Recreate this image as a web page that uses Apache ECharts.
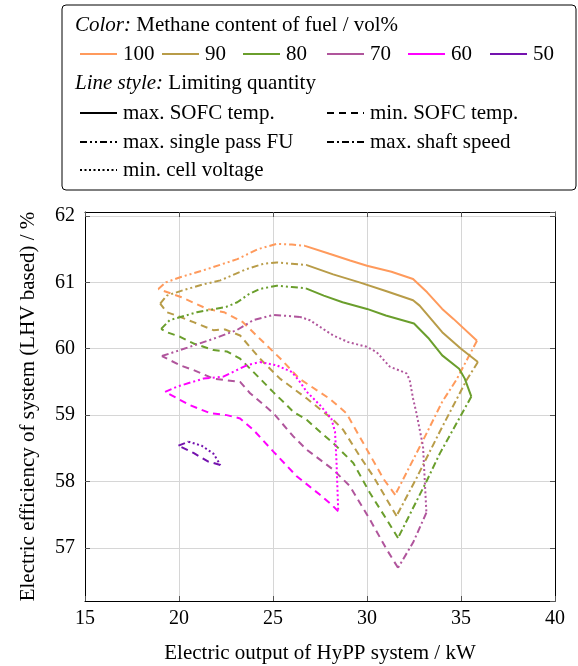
<!DOCTYPE html>
<html>
<head>
<meta charset="utf-8">
<script src="https://cdn.jsdelivr.net/npm/echarts@6/dist/echarts.min.js"></script>
<style>
  html, body { margin: 0; padding: 0; background: #fff; }
  #chart { width: 578px; height: 666px; }
</style>
</head>
<body>
<div id="chart"></div>
<script>
// Methane content of fuel / vol% -> colour
const fuels = ['100', '90', '80', '70', '60', '50'];
const fuelColors = ['#FF9A5C', '#B89C48', '#6A9E2C', '#B0559C', '#FF00FF', '#7412AE'];

// x ticks and limiting quantity labels
const xTicks = [15, 20, 25, 30, 35, 40];
const limits = ['max. SOFC temp.', 'min. SOFC temp.', 'max. single pass FU', 'max. shaft speed', 'min. cell voltage'];

// [electric output kW, efficiency %] per fuel and limiting quantity
const fu100 = [[18.9, 60.9], [19.3, 61.0], [20.1, 61.08], [21.5, 61.2], [23.1, 61.35], [24.2, 61.5], [25.2, 61.58], [26.0, 61.57], [26.7, 61.55]];
const maxT100 = [[26.7, 61.55], [28.0, 61.43], [29.1, 61.33], [30.0, 61.25], [31.3, 61.16], [32.45, 61.05], [33.2, 60.85], [34.0, 60.6], [34.6, 60.45], [35.85, 60.12]];
const shaft100 = [[35.85, 60.12], [34.75, 59.53], [34.0, 59.2], [33.0, 58.63], [31.5, 57.8]];
const minT100 = [[31.5, 57.8], [30.9, 58.03], [30.0, 58.48], [28.9, 59.03], [28.0, 59.25], [27.3, 59.38], [26.4, 59.55], [25.4, 59.85], [24.3, 60.15], [23.4, 60.4], [22.4, 60.55], [21.5, 60.6], [20.1, 60.78], [18.9, 60.9]];

const fu90 = [[19.0, 60.68], [19.35, 60.8], [20.2, 60.88], [21.3, 60.97], [22.2, 61.03], [23.6, 61.2], [24.5, 61.28], [25.2, 61.3], [26.0, 61.28], [26.8, 61.26]];
const maxT90 = [[26.8, 61.26], [28.2, 61.12], [29.6, 61.0], [31.0, 60.87], [32.45, 60.73], [32.8, 60.65], [33.4, 60.45], [34.0, 60.25], [35.0, 60.0], [35.9, 59.8]];
const shaft90 = [[35.9, 59.8], [35.3, 59.53], [33.87, 58.75], [32.63, 58.05], [31.57, 57.48]];
const minT90 = [[31.57, 57.48], [30.33, 58.08], [29.62, 58.38], [28.73, 58.78], [28.2, 58.93], [26.8, 59.25], [25.37, 59.55], [24.31, 59.85], [23.25, 60.2], [22.45, 60.29], [21.83, 60.28], [20.77, 60.4], [19.88, 60.5], [19.35, 60.55], [19.0, 60.68]];

const fu80 = [[19.05, 60.3], [19.5, 60.43], [20.95, 60.55], [22.5, 60.63], [23.1, 60.7], [23.7, 60.82], [24.3, 60.9], [25.2, 60.95], [26.0, 60.93], [26.75, 60.91]];
const maxT80 = [[26.75, 60.91], [27.7, 60.8], [28.7, 60.7], [30.0, 60.6], [31.0, 60.5], [32.5, 60.38], [33.3, 60.15], [34.0, 59.9], [34.9, 59.7], [35.2, 59.55], [35.55, 59.28]];
const shaft80 = [[35.55, 59.28], [33.87, 58.42], [33.16, 58.0], [31.65, 57.15]];
const minT80 = [[31.65, 57.15], [31.04, 57.43], [30.15, 57.83], [29.27, 58.28], [28.2, 58.58], [27.5, 58.75], [26.79, 58.93], [26.08, 59.05], [25.73, 59.15], [25.0, 59.35], [24.31, 59.55], [23.25, 59.85], [22.54, 59.96], [21.83, 59.98], [20.77, 60.08], [20.06, 60.18], [19.35, 60.25], [19.05, 60.3]];

const fu70 = [[19.09, 59.89], [20.06, 59.98], [21.0, 60.07], [21.83, 60.15], [23.07, 60.28], [23.95, 60.43], [25.02, 60.51], [26.43, 60.48]];
const minV70 = [[26.43, 60.48], [26.96, 60.43], [28.2, 60.2], [29.0, 60.1], [29.98, 60.03], [30.51, 59.95], [31.21, 59.73], [32.1, 59.63], [32.27, 59.53], [32.45, 59.25], [32.63, 59.03], [32.98, 58.53], [33.07, 58.03], [33.16, 57.53]];
const shaft70 = [[33.16, 57.53], [32.45, 57.08], [31.65, 56.7]];
const minT70 = [[31.65, 56.7], [31.04, 56.98], [30.15, 57.43], [29.09, 57.93], [28.2, 58.18], [26.79, 58.48], [26.08, 58.68], [25.02, 59.03], [23.78, 59.33], [23.25, 59.5], [21.83, 59.55], [20.77, 59.68], [20.06, 59.75], [19.09, 59.89]];

const fu60 = [[19.26, 59.35], [19.9, 59.43], [21.3, 59.55], [22.36, 59.58], [23.6, 59.75], [24.31, 59.8]];
const minV60 = [[24.31, 59.8], [25.2, 59.75], [26.0, 59.65], [26.43, 59.5], [26.8, 59.35], [27.5, 59.15], [28.1, 58.95], [28.3, 58.75], [28.38, 58.28], [28.47, 57.55]];
const minT60 = [[28.47, 57.55], [28.12, 57.65], [27.5, 57.8], [26.26, 58.08], [25.02, 58.45], [23.95, 58.78], [23.25, 58.95], [22.54, 59.0], [21.65, 59.03], [20.59, 59.15], [19.26, 59.35]];

const fu50 = [[19.97, 58.54], [20.5, 58.6]];
const minV50 = [[20.5, 58.6], [21.2, 58.54], [21.83, 58.42], [22.2, 58.25]];
const minT50 = [[22.2, 58.25], [21.83, 58.28], [21.56, 58.3], [20.77, 58.43], [19.97, 58.54]];

// line dash per limiting quantity
const dashes = {
  maxT: 'solid',
  minT: [7, 5],
  fu: [7, 3, 2, 3, 2, 3],
  shaft: [7, 3, 2, 3],
  minV: [2, 2.5],
};

const curves = [
  [0, 'fu', fu100], [0, 'maxT', maxT100], [0, 'shaft', shaft100], [0, 'minT', minT100],
  [1, 'fu', fu90], [1, 'maxT', maxT90], [1, 'shaft', shaft90], [1, 'minT', minT90],
  [2, 'fu', fu80], [2, 'maxT', maxT80], [2, 'shaft', shaft80], [2, 'minT', minT80],
  [3, 'fu', fu70], [3, 'minV', minV70], [3, 'shaft', shaft70], [3, 'minT', minT70],
  [4, 'fu', fu60], [4, 'minV', minV60], [4, 'minT', minT60],
  [5, 'fu', fu50], [5, 'minV', minV50], [5, 'minT', minT50],
];

const FONT = '"Liberation Serif", "DejaVu Serif", serif';
const TXT = 21;

const series = curves.map(([fi, kind, pts]) => ({
  type: 'line',
  name: fuels[fi] + ' ' + kind,
  data: pts,
  showSymbol: false,
  silent: true,
  lineStyle: { color: fuelColors[fi], width: 2, type: dashes[kind] },
}));

// legend box drawn as graphic
const legend = [];
legend.push({
  type: 'rect', shape: { x: 62, y: 5, width: 514, height: 185, r: 4 },
  style: { fill: '#fff', stroke: '#000', lineWidth: 1 }, z: 100,
});
function txt(x, y, text) {
  legend.push({
    type: 'text', x: x, y: y, z: 101,
    style: {
      text: text, font: TXT + 'px ' + FONT, fill: '#000', verticalAlign: 'middle',
      rich: { i: { fontStyle: 'italic', fontSize: TXT, fontFamily: FONT } },
    },
  });
}
function sample(x, y, color, dash) {
  legend.push({
    type: 'line', z: 101,
    shape: { x1: x, y1: y, x2: x + 37, y2: y },
    style: { stroke: color, lineWidth: 2, lineDash: dash === 'solid' ? null : dash },
  });
}
txt(75, 25, '{i|Color:} Methane content of fuel / vol%');
const fuelX = [80, 162, 243, 327, 408, 490];
fuels.forEach((f, i) => {
  sample(fuelX[i], 54, fuelColors[i], 'solid');
  txt(fuelX[i] + 43, 54, f);
});
txt(75, 83, '{i|Line style:} Limiting quantity');
sample(80, 113, '#000', dashes.maxT); txt(123, 113, limits[0]);
sample(327, 113, '#000', dashes.minT); txt(370, 113, limits[1]);
sample(80, 142, '#000', dashes.fu); txt(123, 142, limits[2]);
sample(327, 142, '#000', dashes.shaft); txt(370, 142, limits[3]);
sample(80, 170, '#000', dashes.minV); txt(123, 170, limits[4]);

const chart = echarts.init(document.getElementById('chart'), null, { renderer: 'canvas' });
const tickStyle = { inside: true, length: 5, lineStyle: { color: '#555', width: 1 } };
chart.setOption({
  animation: false,
  backgroundColor: '#fff',
  grid: { left: 85, right: 23, top: 212, bottom: 65, outerBoundsMode: 'none', containLabel: false },
  xAxis: [{
    type: 'value', min: xTicks[0], max: xTicks[xTicks.length - 1], interval: 5,
    name: 'Electric output of HyPP system / kW', nameLocation: 'middle', nameGap: 42,
    nameTextStyle: { fontFamily: FONT, fontSize: TXT, color: '#000' },
    axisLine: { show: true, lineStyle: { color: '#000', width: 1 } },
    axisTick: tickStyle,
    axisLabel: { fontFamily: FONT, fontSize: 20, color: '#000', margin: 8 },
    splitLine: { show: true, lineStyle: { color: '#d6d6d6', width: 1 } },
  }, {
    type: 'value', position: 'top', min: xTicks[0], max: xTicks[xTicks.length - 1], interval: 5,
    axisLine: { show: true, lineStyle: { color: '#000', width: 1 } },
    axisTick: tickStyle, axisLabel: { show: false }, splitLine: { show: false },
  }],
  yAxis: [{
    type: 'value', min: 56.2, max: 62.06, splitNumber: 6,
    name: 'Electric efficiency of system (LHV based) / %', nameLocation: 'middle', nameGap: 46,
    nameTextStyle: { fontFamily: FONT, fontSize: TXT, color: '#000' },
    axisLine: { show: true, lineStyle: { color: '#000', width: 1 } },
    axisTick: tickStyle,
    axisLabel: { fontFamily: FONT, fontSize: 20, color: '#000', margin: 10, showMinLabel: false, showMaxLabel: false },
    splitLine: { show: true, lineStyle: { color: '#d6d6d6', width: 1 } },
  }, {
    type: 'value', position: 'right', min: 56.2, max: 62.06, splitNumber: 6,
    axisLine: { show: true, lineStyle: { color: '#000', width: 1 } },
    axisTick: tickStyle, axisLabel: { show: false }, splitLine: { show: false },
  }],
  series: series,
  graphic: legend,
});
</script>
</body>
</html>
